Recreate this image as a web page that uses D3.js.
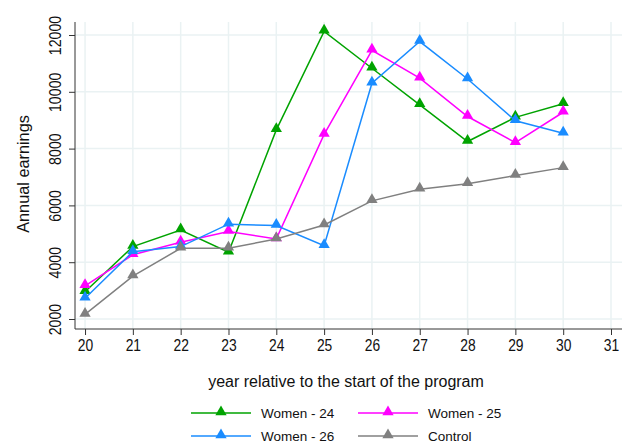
<!DOCTYPE html>
<html><head><meta charset="utf-8">
<script src="https://cdn.jsdelivr.net/npm/d3@7"></script>
<style>body{margin:0;background:#fff}svg{display:block;font-family:"Liberation Sans",Arial,sans-serif}</style>
</head><body><svg id="c" width="630" height="445"></svg>
<script>
const years = [20,21,22,23,24,25,26,27,28,29,30];
const xTicks = [20,21,22,23,24,25,26,27,28,29,30,31];
const yTicks = [2000,4000,6000,8000,10000,12000];
const women24 = [2960,4550,5130,4350,8660,12130,10830,9540,8250,9100,9580];
const women25 = [3170,4260,4700,5080,4820,8500,11460,10480,9130,8210,9280];
const women26 = [2730,4370,4550,5340,5290,4580,10300,11770,10450,8980,8540];
const control = [2160,3510,4490,4490,4820,5310,6160,6570,6760,7050,7330];
const seriesNames = ["Women - 24","Women - 25","Women - 26","Control"];
const seriesColors = ["#00a300","#ff00ff","#1a8cff","#808080"];
const series = [women24,women25,women26,control];

const svg = d3.select("#c");
const x = d3.scaleLinear().domain([19.79,31.23]).range([75,622]);
const y = d3.scaleLinear().domain([1648,12458]).range([329,22]);

svg.append("g").selectAll("line").data(yTicks).join("line")
  .attr("x1",75).attr("x2",622).attr("y1",d=>y(d)).attr("y2",d=>y(d))
  .attr("stroke","#eaf2f3").attr("stroke-width",1.5);
svg.append("g").selectAll("line").data(xTicks).join("line")
  .attr("y1",22).attr("y2",329).attr("x1",d=>x(d)).attr("x2",d=>x(d))
  .attr("stroke","#eaf2f3").attr("stroke-width",1.5);

const ya = svg.append("g").attr("transform","translate(75,0)")
  .call(d3.axisLeft(y).tickValues(yTicks).tickSize(6).tickFormat(d3.format("d")));
ya.select(".domain").attr("stroke","#333").attr("d","M0,22V329");
ya.selectAll(".tick line").attr("stroke","#333");
ya.selectAll(".tick text").attr("font-size",16.5).attr("fill","#111")
  .attr("transform","rotate(-90) scale(0.86,1)").attr("x",0).attr("y",-14).attr("dy",0)
  .attr("text-anchor","middle");

const xa = svg.append("g").attr("transform","translate(0,329)")
  .call(d3.axisBottom(x).tickValues(xTicks).tickSize(6).tickFormat(d3.format("d")));
xa.select(".domain").attr("stroke","#333").attr("d","M75,0H622");
xa.selectAll(".tick line").attr("stroke","#333");
xa.selectAll(".tick text").attr("font-size",16.5).attr("fill","#111").attr("y",10)
  .attr("transform","scale(0.84,1)");

svg.append("text").attr("transform","translate(29,174) rotate(-90)")
  .attr("text-anchor","middle").attr("font-size",16.3).attr("fill","#111").text("Annual earnings");
svg.append("text").attr("x",346).attr("y",387).attr("text-anchor","middle")
  .attr("font-size",16).attr("fill","#111").text("year relative to the start of the program");

const tri = d3.symbol().type(d3.symbolTriangle).size(55);
const line = d3.line().x((d,i)=>x(years[i])).y(d=>y(d));
series.forEach((s,k)=>{
  const g = svg.append("g");
  g.append("path").attr("d",line(s)).attr("fill","none")
    .attr("stroke",seriesColors[k]).attr("stroke-width",1.5);
  g.selectAll("path.m").data(s).join("path").attr("class","m")
    .attr("d",tri).attr("fill",seriesColors[k])
    .attr("transform",(d,i)=>`translate(${x(years[i])},${y(d)-1})`);
});

const lpos = [[191,413],[358,413],[191,436],[358,436]];
seriesNames.forEach((n,k)=>{
  const [lx,ly] = lpos[k];
  const g = svg.append("g");
  g.append("line").attr("x1",lx).attr("x2",lx+60).attr("y1",ly).attr("y2",ly)
    .attr("stroke",seriesColors[k]).attr("stroke-width",1.5);
  g.append("path").attr("d",tri).attr("fill",seriesColors[k])
    .attr("transform",`translate(${lx+30},${ly-1})`);
  g.append("text").attr("x",lx+70).attr("y",ly+5).attr("font-size",13.5)
    .attr("fill","#111").text(n);
});
</script></body></html>
